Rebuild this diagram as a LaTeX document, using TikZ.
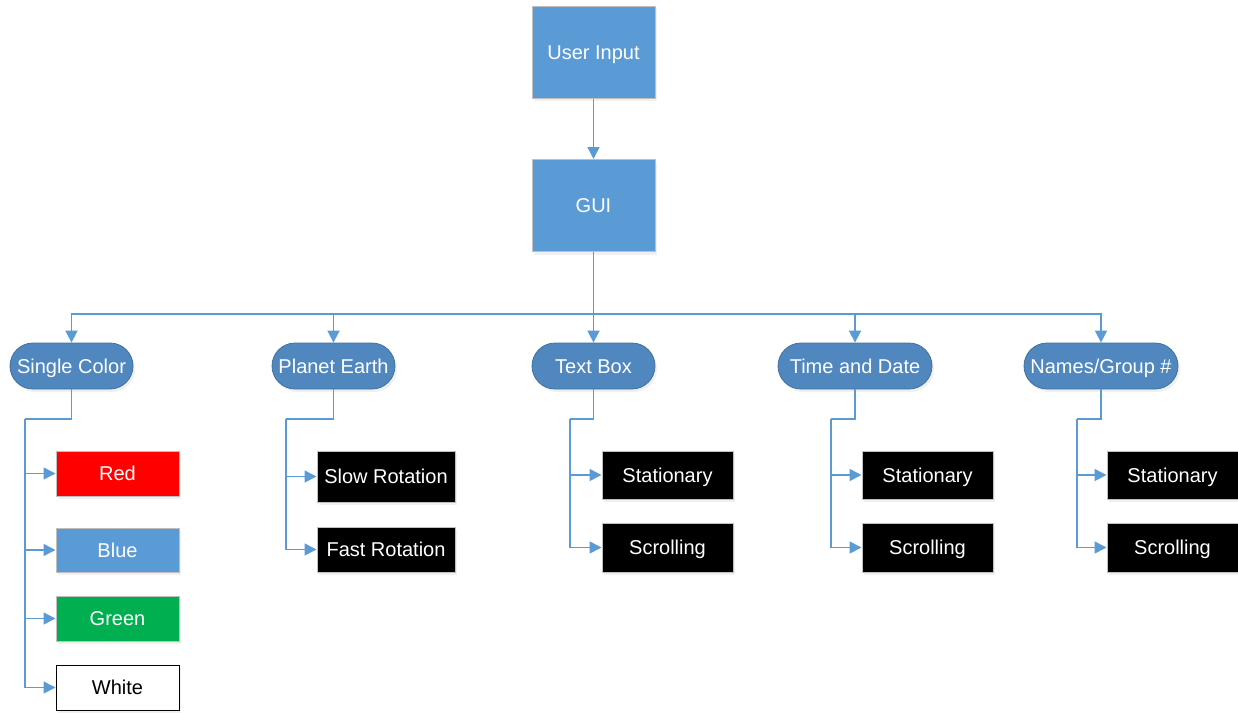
\documentclass[tikz,border=0pt]{standalone}
\usepackage{fontspec}
\setmainfont{Liberation Sans}
\usetikzlibrary{arrows.meta,shadows}
\definecolor{boxblue}{HTML}{5B9BD5}
\definecolor{pillblue}{HTML}{4F87BE}
\definecolor{pilledge}{HTML}{41719C}
\definecolor{lineblue}{HTML}{5B9BD5}
\definecolor{edgegray}{HTML}{BFBFBF}
\definecolor{myred}{HTML}{FF0000}
\definecolor{mygreen}{HTML}{00B050}
\tikzset{
  shade/.style={drop shadow={opacity=0.12,shadow xshift=2pt,shadow yshift=-3pt}},
  txt/.style={font=\fontsize{20}{24}\selectfont,text height=14.5pt,text depth=0pt},
  topbox/.style={draw=edgegray,line width=1pt,fill=boxblue,text=white,minimum width=123pt,minimum height=92pt,inner sep=0pt,txt,shade},
  pill/.style={draw=pilledge,line width=0.8pt,fill=pillblue,text=white,minimum height=46pt,inner sep=0pt,rounded corners=23pt,txt,shade},
  leaf/.style={draw=edgegray,line width=1pt,text=white,minimum height=45pt,inner sep=0pt,txt,shade},
  conn/.style={draw=lineblue,line width=1.6pt},
  arr/.style={conn,-{Triangle[length=12pt,width=12pt]}}
}
\begin{document}
\begin{tikzpicture}[x=1pt,y=-1pt]
\useasboundingbox (0,0) rectangle (1238,712);
% top boxes
\node[topbox] (ui) at (593.5,52) {User Input};
\node[topbox] (gui) at (593.5,205.5) {GUI};
% pills
\node[pill,minimum width=123pt] (sc) at (71.5,366) {Single Color};
\node[pill,minimum width=123pt] (pe) at (333.5,366) {Planet Earth};
\node[pill,minimum width=123pt] (tb) at (593.5,366) {Text Box};
\node[pill,minimum width=154pt] (td) at (855,366) {Time and Date};
\node[pill,minimum width=154pt] (ng) at (1101,366) {Names/Group \#};
% single color leaves
\node[leaf,fill=myred,minimum width=123pt] (red) at (117.5,473.5) {Red};
\node[leaf,fill=boxblue,minimum width=123pt,minimum height=44pt] (blue) at (117.5,550) {Blue};
\node[leaf,fill=mygreen,minimum width=123pt] (green) at (117.5,618.5) {Green};
\node[leaf,draw=black,fill=white,text=black,minimum width=123pt] (white) at (117.5,687.5) {White};
% planet earth leaves
\node[leaf,fill=black,minimum width=138pt,minimum height=51pt] (slow) at (386,476.5) {Slow Rotation};
\node[leaf,fill=black,minimum width=138pt] (fast) at (386,549.5) {Fast Rotation};
% text box leaves
\node[leaf,fill=black,minimum width=131pt,minimum height=48pt] (tbs) at (667.5,475) {Stationary};
\node[leaf,fill=black,minimum width=131pt,minimum height=49pt] (tbc) at (667.5,547.5) {Scrolling};
% time and date leaves
\node[leaf,fill=black,minimum width=131pt,minimum height=48pt] (tds) at (927.5,475) {Stationary};
\node[leaf,fill=black,minimum width=131pt,minimum height=49pt] (tdc) at (927.5,547.5) {Scrolling};
% names leaves
\node[leaf,fill=black,minimum width=131pt,minimum height=48pt] (ngs) at (1172.5,475) {Stationary};
\node[leaf,fill=black,minimum width=131pt,minimum height=49pt] (ngc) at (1172.5,547.5) {Scrolling};
% coordinates
\coordinate (bus) at (593.5,314);
\coordinate (scB) at (25,419);
\coordinate (peB) at (286,419);
\coordinate (tbB) at (570,419);
\coordinate (tdB) at (831,419);
\coordinate (ngB) at (1077,419);
% connectors
\draw[arr] (ui) -- (gui);
\draw[conn] (gui) -- (bus);
\draw[arr] (bus) -| (sc.north);
\draw[arr] (bus) -| (pe.north);
\draw[arr] (bus) -- (tb.north);
\draw[arr] (bus) -| (td.north);
\draw[arr] (bus) -| (ng.north);
\foreach \p/\b/\kids in {sc/scB/{red,blue,green,white},pe/peB/{slow,fast},tb/tbB/{tbs,tbc},td/tdB/{tds,tdc},ng/ngB/{ngs,ngc}}{
  \draw[conn] (\p.south) |- (\b);
  \foreach \k in \kids { \draw[arr] (\b) |- (\k.west); }
}
\end{tikzpicture}
\end{document}
